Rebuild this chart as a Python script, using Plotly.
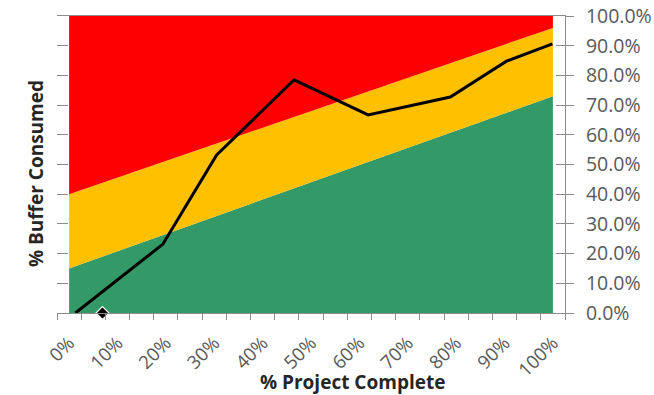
import plotly.graph_objects as go

# Zone boundaries (% buffer consumed) at each 10% of project completion
zone_x = [0, 10, 20, 30, 40, 50, 60, 70, 80, 90, 100]
green_top = [15, 20.8, 26.6, 32.4, 38.2, 44, 49.8, 55.6, 61.4, 67.2, 73]
yellow_top = [40, 45.6, 51.2, 56.8, 62.4, 68, 73.6, 79.2, 84.8, 90.4, 96]
red_top = [100, 100, 100, 100, 100, 100, 100, 100, 100, 100, 100]

# Project progress line
progress_x = [1.3, 19.4, 30.5, 46.5, 61.8, 78.8, 90.4, 99.9]
progress_y = [0, 23.2, 53.2, 78.5, 66.7, 72.7, 84.8, 90.6]

# Current status marker
marker_x = [6.9]
marker_y = [0]

x_tick_vals = [0, 10, 20, 30, 40, 50, 60, 70, 80, 90, 100]
x_tick_text = ["0%", "10%", "20%", "30%", "40%", "50%", "60%", "70%", "80%", "90%", "100%"]
y_tick_vals = [0, 10, 20, 30, 40, 50, 60, 70, 80, 90, 100]
y_tick_text = ["0.0%", "10.0%", "20.0%", "30.0%", "40.0%", "50.0%", "60.0%", "70.0%", "80.0%", "90.0%", "100.0%"]

GREEN = "#339966"
YELLOW = "#FFC000"
RED = "#FF0000"
AXIS = "#8C8C8C"
TICKFONT = dict(family="Open Sans", size=18.5, color="#595959")
YTICKFONT = dict(family="Open Sans", size=19.5, color="#595959")
TITLEFONT = dict(family="Open Sans", size=19, color="#262626")

fig = go.Figure()
fig.add_trace(go.Scatter(x=zone_x, y=green_top, mode="lines", line=dict(width=0, color=GREEN),
                         fill="tozeroy", fillcolor=GREEN, hoverinfo="skip", showlegend=False))
fig.add_trace(go.Scatter(x=zone_x, y=yellow_top, mode="lines", line=dict(width=0, color=YELLOW),
                         fill="tonexty", fillcolor=YELLOW, hoverinfo="skip", showlegend=False))
fig.add_trace(go.Scatter(x=zone_x, y=red_top, mode="lines", line=dict(width=0, color=RED),
                         fill="tonexty", fillcolor=RED, hoverinfo="skip", showlegend=False))
fig.add_trace(go.Scatter(x=progress_x, y=progress_y, mode="lines",
                         line=dict(width=3, color="black"), showlegend=False))
fig.add_trace(go.Scatter(x=marker_x, y=marker_y, mode="markers", cliponaxis=False,
                         marker=dict(symbol="diamond", size=10, color="black",
                                     line=dict(color="white", width=1.2)),
                         showlegend=False))
# dummy traces to activate right axes
fig.add_trace(go.Scatter(x=[None], y=[None], yaxis="y2", showlegend=False, hoverinfo="skip"))
fig.add_trace(go.Scatter(x=[None], y=[None], yaxis="y3", showlegend=False, hoverinfo="skip"))

fig.update_layout(
    width=654, height=395,
    margin=dict(l=57, r=89, t=16, b=82),
    paper_bgcolor="white", plot_bgcolor="white",
    showlegend=False,
    xaxis=dict(
        range=[-2.5, 102.5], showgrid=False, zeroline=False, automargin=False,
        tickmode="array", tickvals=x_tick_vals, ticktext=x_tick_text,
        tickangle=-45, tickfont=TICKFONT, ticks="", ticklabelstandoff=11,
        showline=True, linecolor=AXIS, linewidth=1, mirror=True,
        minor=dict(tickmode="linear", tick0=-2.5, dtick=5, ticks="outside",
                   ticklen=6, tickcolor=AXIS, tickwidth=1, showgrid=False),
    ),
    yaxis=dict(
        range=[0, 100], showgrid=False, zeroline=False, automargin=False,
        tickmode="array", tickvals=y_tick_vals, showticklabels=False,
        ticks="inside", ticklen=11, tickcolor=AXIS, tickwidth=1,
        showline=False,
    ),
    yaxis2=dict(
        range=[0, 100], overlaying="y", side="right", showgrid=False, zeroline=False,
        automargin=False,
        tickmode="array", tickvals=y_tick_vals, ticktext=y_tick_text,
        tickfont=YTICKFONT, ticks="outside", ticklen=8, tickcolor=AXIS, tickwidth=1,
        showline=True, linecolor=AXIS, linewidth=1, ticklabelstandoff=8,
    ),
    yaxis3=dict(
        range=[0, 100], overlaying="y", side="right", showgrid=False, zeroline=False,
        automargin=False,
        tickmode="array", tickvals=y_tick_vals, showticklabels=False,
        ticks="inside", ticklen=9, tickcolor=AXIS, tickwidth=1, showline=False,
    ),
    annotations=[
        dict(text="<b>% Project Complete</b>", xref="paper", yref="paper",
             x=0.581, y=0, yshift=-69, xanchor="center", yanchor="middle",
             showarrow=False, font=TITLEFONT),
        dict(text="<b>% Buffer Consumed</b>", xref="paper", yref="paper",
             x=0, xshift=-21, y=0.468, xanchor="center", yanchor="middle",
             textangle=-90, showarrow=False, font=TITLEFONT),
    ],
)

fig.write_html("out.html")
